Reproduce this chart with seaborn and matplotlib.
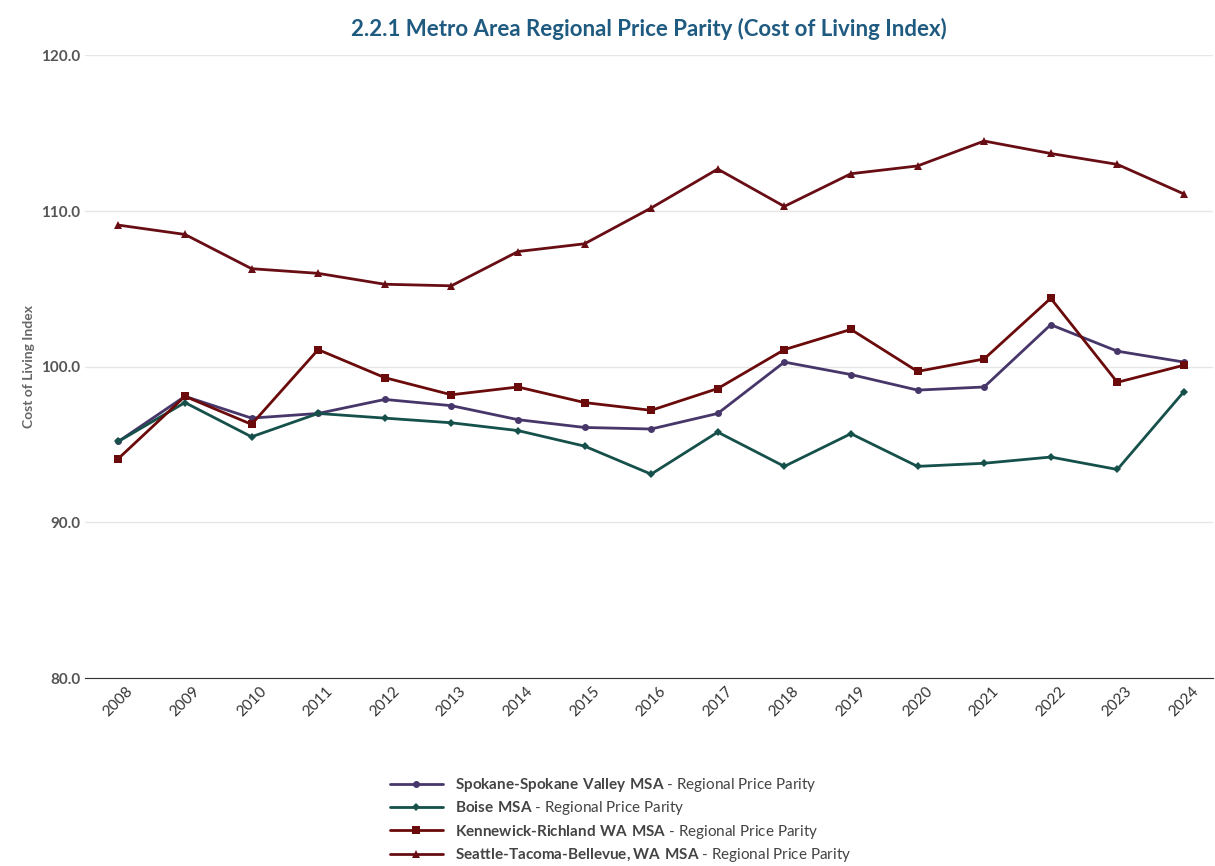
import numpy as np
import pandas as pd
import matplotlib
matplotlib.use("Agg")
import matplotlib.pyplot as plt
import seaborn as sns

years = list(range(2008, 2025))
spokane = [95.2, 98.1, 96.7, 97.0, 97.9, 97.5, 96.6, 96.1, 96.0, 97.0, 100.3, 99.5, 98.5, 98.7, 102.7, 101.0, 100.3]
boise = [95.2, 97.7, 95.5, 97.0, 96.7, 96.4, 95.9, 94.9, 93.1, 95.8, 93.6, 95.7, 93.6, 93.8, 94.2, 93.4, 98.4]
kennewick = [94.1, 98.1, 96.3, 101.1, 99.3, 98.2, 98.7, 97.7, 97.2, 98.6, 101.1, 102.4, 99.7, 100.5, 104.4, 99.0, 100.1]
seattle = [109.1, 108.5, 106.3, 106.0, 105.3, 105.2, 107.4, 107.9, 110.2, 112.7, 110.3, 112.4, 112.9, 114.5, 113.7, 113.0, 111.1]

names = ["Spokane-Spokane Valley MSA", "Boise MSA", "Kennewick-Richland WA MSA", "Seattle-Tacoma-Bellevue, WA MSA"]
series = [spokane, boise, kennewick, seattle]
colors = ["#46366a", "#15504a", "#6a0a0a", "#680d14"]
markers = ["o", "D", "s", "^"]
msizes = [5, 4, 6, 6]

sns.set_style("white")
plt.rcParams['font.family'] = ['Lato', 'DejaVu Sans']
plt.rcParams['mathtext.fontset'] = 'custom'
plt.rcParams['mathtext.bf'] = 'Lato:bold'
plt.rcParams['mathtext.rm'] = 'Lato'

fig, ax = plt.subplots(figsize=(12.15, 8.66), dpi=100)
fig.subplots_adjust(left=0.07, right=0.998, top=0.936, bottom=0.217)

for name, vals, c, m, ms in zip(names, series, colors, markers, msizes):
    df = pd.DataFrame({"year": years, "value": vals})
    bold = name.replace(", ", ",").replace(" ", r"\ ").replace("-", "\u2010")
    label = r"$\bf{" + bold + r"}$" + " - Regional Price Parity"
    sns.lineplot(data=df, x="year", y="value", ax=ax, color=c, marker=m,
                 markersize=ms, markeredgewidth=0, linewidth=2, label=label)

ax.set_ylim(80, 120)
ax.set_xlim(2007.5, 2024.43)
ax.set_yticks([80, 90, 100, 110, 120])
ax.set_yticklabels([f"{v:.1f}" for v in [80, 90, 100, 110, 120]])
ax.set_xticks(years)
ax.set_xticklabels([str(y) for y in years], rotation=45, color="#333333", fontsize=11)
ax.tick_params(axis='x', pad=1)
ax.tick_params(axis='y', labelsize=11, labelcolor="#555555", length=0)
for lbl in ax.get_yticklabels():
    lbl.set_fontweight("bold")
ax.grid(axis='y', color="#e6e6e6", linewidth=1)
for s in ["top", "right", "left"]:
    ax.spines[s].set_visible(False)
ax.spines["bottom"].set_color("#333333")
ax.set_xlabel("")
ax.set_ylabel("Cost of Living Index", fontsize=10, color="#666666", fontweight="bold")
ax.set_title("2.2.1 Metro Area Regional Price Parity (Cost of Living Index)",
             fontsize=16, fontweight="bold", color="#1f5a80", pad=14)

ax.legend(loc="upper center", bbox_to_anchor=(0.475, -0.135), frameon=False,
          fontsize=11, labelcolor="#444444", handlelength=3.5, labelspacing=0.35)

fig.savefig("out.png", dpi=100)
